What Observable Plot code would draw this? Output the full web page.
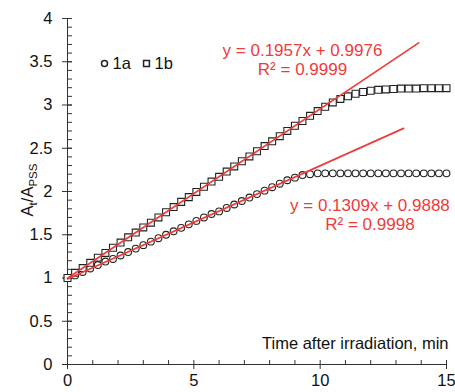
<!DOCTYPE html>
<html><head><meta charset="utf-8">
<script src="https://cdn.jsdelivr.net/npm/d3@7"></script>
<script src="https://cdn.jsdelivr.net/npm/@observablehq/plot@0.6"></script>
<style>body{margin:0;background:#fff}</style>
</head><body><div id="chart"></div>
<script>
// ---- data ----
const time = [0,0.3,0.6,0.9,1.2,1.5,1.8,2.1,2.4,2.7,3.0,3.3,3.6,3.9,4.2,4.5,4.8,5.1,5.4,5.7,6.0,6.3,6.6,6.9,7.2,7.5,7.8,8.1,8.4,8.7,9.0,9.3,9.6,9.9,10.2,10.5,10.8,11.1,11.4,11.7,12.0,12.3,12.6,12.9,13.2,13.5,13.8,14.1,14.4,14.7,15.0];
const series1a = [1.00,1.03,1.07,1.11,1.15,1.19,1.22,1.26,1.30,1.34,1.38,1.42,1.46,1.50,1.54,1.58,1.62,1.66,1.70,1.74,1.77,1.81,1.85,1.89,1.93,1.97,2.01,2.05,2.09,2.13,2.16,2.19,2.20,2.21,2.21,2.21,2.21,2.21,2.21,2.21,2.21,2.21,2.21,2.21,2.21,2.21,2.21,2.21,2.21,2.21,2.21];
const series1b = [1.00,1.06,1.115,1.175,1.235,1.29,1.35,1.41,1.47,1.525,1.585,1.64,1.70,1.76,1.82,1.88,1.935,1.995,2.055,2.115,2.17,2.23,2.29,2.35,2.405,2.465,2.525,2.58,2.64,2.70,2.76,2.815,2.875,2.93,2.98,3.03,3.07,3.10,3.13,3.15,3.165,3.175,3.18,3.185,3.19,3.19,3.19,3.195,3.195,3.195,3.195];
const seriesNames = ["1a","1b"];
const fitSlopes = [0.1309, 0.1957];
const fitIntercepts = [0.9888, 0.9976];
const fitEnds = [13.3, 13.9];
const fitEquations = ["y = 0.1309x + 0.9888", "y = 0.1957x + 0.9976"];
const fitR2 = ["R² = 0.9998", "R² = 0.9999"];
const labelX = [11.97, 9.30];
const labelY = [1.738, 3.528];
const yMajor = [0,0.5,1,1.5,2,2.5,3,3.5,4];
const yMinor = d3.range(0, 41).map(i => i / 10);
const xMajor = [0,5,10,15];
const xMinor = [1,2,3,4,6,7,8,9,11,12,13,14];
const xTitle = "Time after irradiation, min";

// ---- build tables ----
const pts1a = time.map((t, i) => ({t, v: series1a[i]}));
const pts1b = time.map((t, i) => ({t, v: series1b[i]}));
const fitLines = seriesNames.flatMap((s, i) => [
  {s, t: 0, v: fitIntercepts[i]},
  {s, t: fitEnds[i], v: fitIntercepts[i] + fitSlopes[i] * fitEnds[i]}
]);
const fitLabels = seriesNames.map((s, i) => ({x: labelX[i], y: labelY[i], text: fitEquations[i] + "\n" + fitR2[i]}));

const red = "#ef3b3b";
const ink = "#333";
const fmt = d => String(d);

const chart = Plot.plot({
  width: 455, height: 392,
  marginLeft: 67, marginRight: 9, marginTop: 18, marginBottom: 28,
  style: {fontFamily: "'Liberation Sans', Arial, sans-serif", fontSize: "16.5px", color: "#111", background: "#fff"},
  x: {domain: [0, 15]},
  y: {domain: [0, 4]},
  marks: [
    Plot.ruleX([0], {stroke: ink}),
    Plot.ruleY([0], {stroke: ink}),
    Plot.axisY(yMinor, {tickSize: 5, dx: 5, text: null, label: null, stroke: ink}),
    Plot.axisY(yMajor, {tickSize: 10, dx: 5, text: null, label: null, stroke: ink}),
    Plot.axisY(yMajor, {tickSize: 0, tickPadding: 15, label: null, fontSize: 16.5, tickFormat: fmt}),
    Plot.axisX(xMinor, {tickSize: 4, dy: -4, text: null, label: null, stroke: ink}),
    Plot.axisX(xMajor, {tickSize: 9, dy: -4, text: null, label: null, stroke: ink}),
    Plot.axisX(xMajor, {tickSize: 0, tickPadding: 10, label: null, fontSize: 16.5, tickFormat: fmt}),
    Plot.dot(pts1a, {x: "t", y: "v", r: 3.4, symbol: "circle", stroke: "#222", strokeWidth: 1.1, fill: "white"}),
    Plot.dot(pts1b, {x: "t", y: "v", r: 3.9, symbol: "square", stroke: "#222", strokeWidth: 1.1, fill: "white"}),
    Plot.line(fitLines, {x: "t", y: "v", z: "s", stroke: red, strokeWidth: 1.7}),
    Plot.text(fitLabels, {x: "x", y: "y", text: "text", fill: red, fontSize: 17, lineHeight: 1.12}),
    Plot.text([xTitle], {frameAnchor: "bottom-right", textAnchor: "end", lineAnchor: "middle", dx: 2, dy: -21, fontSize: 16.5, fill: "#111"}),
    // legend
    Plot.dot([seriesNames[0]], {frameAnchor: "top-left", dx: 37, dy: 45, r: 3.0, symbol: "circle", stroke: "#222", fill: "white"}),
    Plot.text([seriesNames[0]], {frameAnchor: "top-left", dx: 45, dy: 45, textAnchor: "start", lineAnchor: "middle", fontSize: 16.5, fill: "#111"}),
    Plot.dot([seriesNames[1]], {frameAnchor: "top-left", dx: 79, dy: 45, r: 3.3, symbol: "square", stroke: "#222", fill: "white"}),
    Plot.text([seriesNames[1]], {frameAnchor: "top-left", dx: 87, dy: 45, textAnchor: "start", lineAnchor: "middle", fontSize: 16.5, fill: "#111"})
  ]
});
document.getElementById("chart").appendChild(chart);

// y-axis title with subscripts
const yt = d3.select(chart).append("text")
  .attr("transform", "translate(33,190) rotate(-90)")
  .attr("text-anchor", "middle")
  .attr("fill", "#111")
  .style("font-size", "16.5px");
yt.append("tspan").text("A");
yt.append("tspan").attr("dy", 4).style("font-size", "11.5px").text("t");
yt.append("tspan").attr("dy", -4).text("/A");
yt.append("tspan").attr("dy", 4).style("font-size", "11.5px").text("PSS");
</script>
</body></html>
